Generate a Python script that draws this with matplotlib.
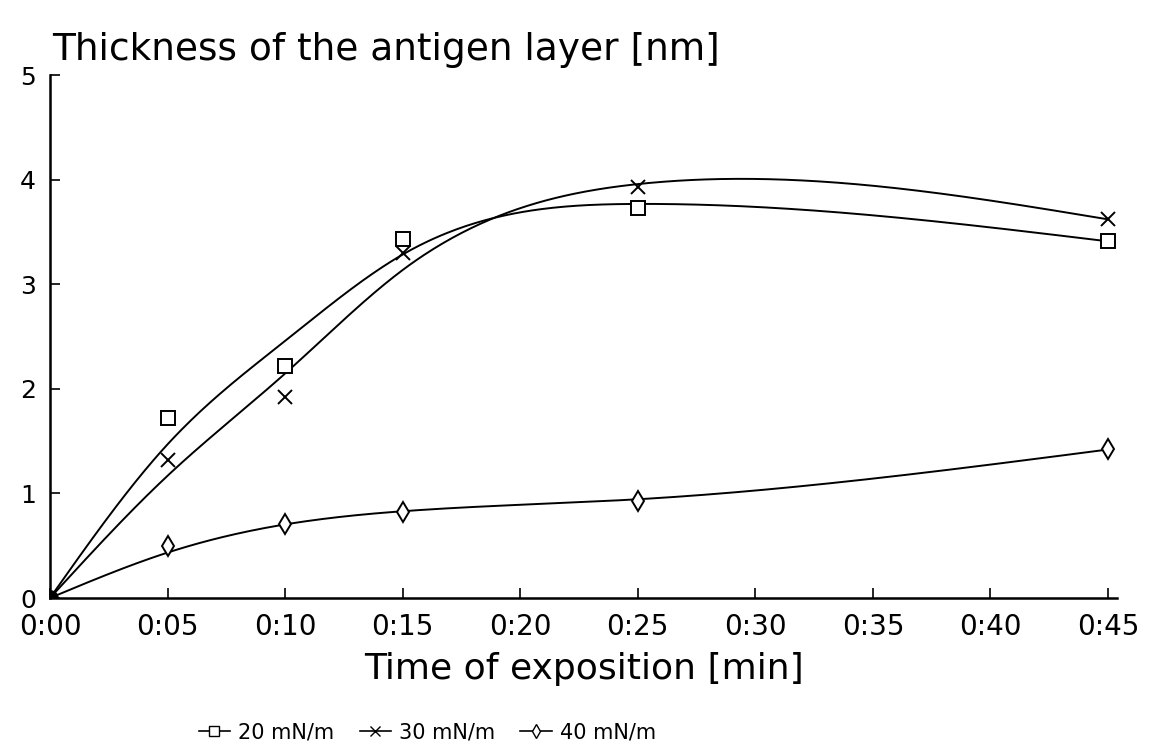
import numpy as np
import matplotlib
matplotlib.use("Agg")
import matplotlib.pyplot as plt
from matplotlib.lines import Line2D

plt.rcParams['font.family'] = ['DejaVu Sans']

# exposition time in minutes
minutes = [0, 5, 10, 15, 25, 45]
tick_min = [0, 5, 10, 15, 20, 25, 30, 35, 40, 45]
tick_labels = ["0:00", "0:05", "0:10", "0:15", "0:20", "0:25", "0:30", "0:35", "0:40", "0:45"]

# thickness [nm]
p20 = [0, 1.72, 2.22, 3.43, 3.73, 3.41]
p30 = [0, 1.32, 1.92, 3.30, 3.93, 3.62]
p40 = [0, 0.50, 0.71, 0.82, 0.93, 1.42]

labels = ["20 mN/m", "30 mN/m", "40 mN/m"]
markers = ["s", "x", "d"]
smoothing = [20.0, 20.0, 30.0]


def smooth_curve(x, y, lam, h=0.1):
    # discrete smoothing spline on a fine grid
    grid = np.arange(0, max(x) + h / 2, h)
    n = len(grid)
    w = np.zeros(n)
    target = np.zeros(n)
    for xi, yi in zip(x, y):
        k = int(round(xi / h))
        w[k] = 1.0
        target[k] = yi
    w[0] = 200.0  # curves start at the origin
    w[-1] = 20.0  # and end on the last point
    D = np.diff(np.eye(n), 2, axis=0) / h**2
    A = np.diag(w) + lam * h * D.T @ D
    return grid, np.linalg.solve(A, w * target)


fig = plt.figure(figsize=(11.49, 7.48), dpi=100)
ax = fig.add_axes([0.0435, 0.2005, 0.929, 0.6992])

for ys, m, lam in zip([p20, p30, p40], markers, smoothing):
    gx, gy = smooth_curve(minutes, ys, lam)
    ax.plot(gx, gy, color="black", lw=1.4)
    ax.plot(minutes[1:], ys[1:], linestyle="none", marker=m, ms=10,
            mfc="white", mec="black", mew=1.4, zorder=3)
ax.plot([0], [0], marker="o", ms=11, color="black", zorder=4)

ax.set_xlim(0, 45.4)
ax.set_ylim(0, 5)
ax.set_xticks(tick_min)
ax.set_xticklabels(tick_labels)
ax.set_yticks([0, 1, 2, 3, 4, 5])
ax.tick_params(direction="in", length=7, width=1.2)
ax.tick_params(axis="x", labelsize=20, pad=11)
ax.tick_params(axis="y", labelsize=18, pad=10)
for s in ["top", "right"]:
    ax.spines[s].set_visible(False)
for s in ["left", "bottom"]:
    ax.spines[s].set_linewidth(1.8)

ax.set_xlabel("Time of exposition [min]", fontsize=26, labelpad=8)
fig.text(0.045, 0.92, "Thickness of the antigen layer [nm]", fontsize=27,
         va="baseline")

handles = [Line2D([0], [0], color="black", lw=1.2, marker=m, ms=7,
                  mfc="white", mec="black") for m in markers]
fig.legend(handles, labels, loc="lower center", bbox_to_anchor=(0.372, -0.018),
           ncol=3, frameon=False, fontsize=15, handlelength=1.5,
           columnspacing=1.2, handletextpad=0.4)

fig.savefig("out.png", dpi=100)
